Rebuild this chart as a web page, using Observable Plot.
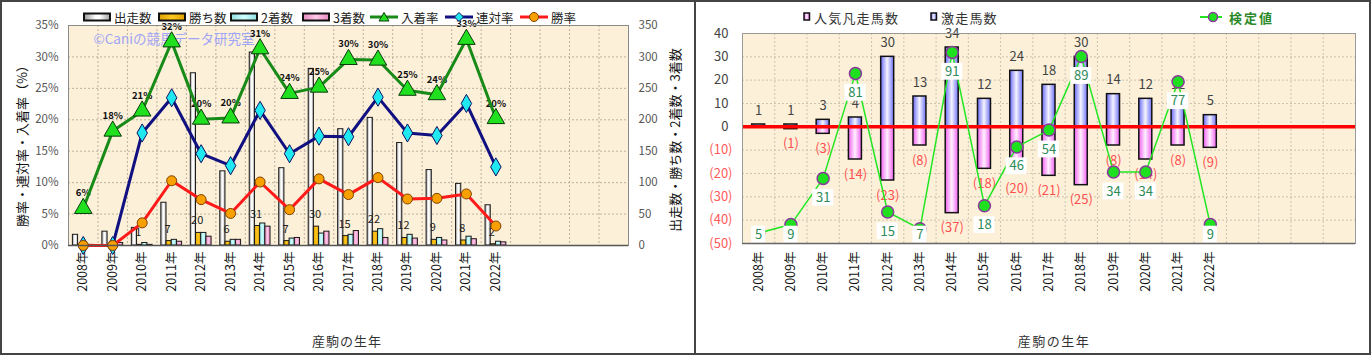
<!DOCTYPE html>
<html><head><meta charset="utf-8">
<script src="https://cdn.jsdelivr.net/npm/d3@7"></script>
<script src="https://cdn.jsdelivr.net/npm/@observablehq/plot@0.6"></script>
<style>
body{margin:0;background:#fff;}
#wrap{position:relative;width:1371px;height:355px;overflow:hidden;font-family:"Noto Sans CJK JP","Noto Sans",sans-serif;}
.abs{position:absolute;white-space:nowrap;line-height:1;}
.leg{position:absolute;display:flex;align-items:center;font-size:12.5px;color:#222;white-space:nowrap;height:16px;}
.leg svg{margin-right:3px;}
</style></head><body><div id="wrap"></div>
<script>
// ---------- data ----------
const years = ["2008年","2009年","2010年","2011年","2012年","2013年","2014年","2015年","2016年","2017年","2018年","2019年","2020年","2021年","2022年"];
const blankSlots = ["b1","b2","b3","b4"];
// left chart (counts)
const starts  = [17,22,28,68,274,118,307,123,281,185,203,163,120,98,64];   // 出走数
const wins    = [0,0,1,7,20,6,31,7,30,15,22,12,9,8,2];                     // 勝ち数
const seconds = [0,0,4,9,20,9,35,11,19,17,26,17,12,14,6];                  // 2着数
const thirds  = [1,4,1,6,14,9,30,12,22,23,12,11,8,10,5];                   // 3着数
// left chart (rates, %)
const winRate    = [0,0,3.6,10.3,7.3,5.1,10.1,5.7,10.6,8.1,10.8,7.4,7.5,8.2,3.1];        // 勝率
const rentaiRate = [0,0,17.9,23.5,14.6,12.7,21.5,14.6,17.4,17.3,23.6,17.9,17.5,22.6,12.5]; // 連対率
const placeRate  = [5.9,18.2,21.4,32.4,20.1,20.3,31.3,24.2,25.2,29.6,29.5,24.7,24.0,32.8,20.2]; // 入着率
// right chart
const surgeCount = [1,1,3,4,30,13,34,12,24,18,30,14,12,12,5];   // 激走馬数
const flopCount  = [0,1,3,14,23,8,37,18,20,21,25,8,14,8,9];     // 人気凡走馬数
const testValue  = [5,9,31,81,15,7,91,18,46,54,89,34,34,77,9];  // 検定値
const pctTicks = [0,5,10,15,20,25,30,35];
const posTicks = [0,10,20,30,40];
const negTicks = [-50,-40,-30,-20,-10];

const FONT = '"Noto Sans CJK JP","Noto Sans",sans-serif';
const wrap = document.getElementById("wrap");
const ns = "http://www.w3.org/2000/svg";

function addDefs(svg, grads) {
  const defs = document.createElementNS(ns, "defs");
  for (const [id, stops] of grads) {
    const g = document.createElementNS(ns, "linearGradient");
    g.setAttribute("id", id);
    g.setAttribute("x1","0"); g.setAttribute("x2","1"); g.setAttribute("y1","0"); g.setAttribute("y2","0");
    for (const [off, col] of stops) {
      const s = document.createElementNS(ns, "stop");
      s.setAttribute("offset", off); s.setAttribute("stop-color", col);
      g.appendChild(s);
    }
    defs.appendChild(g);
  }
  svg.insertBefore(defs, svg.firstChild);
}
const GRADS = [
  ["gWhite", [["0","#9a9a9a"],["0.45","#ffffff"],["0.6","#ffffff"],["1","#a0a0a0"]]],
  ["gGold",  [["0","#e0a000"],["0.5","#ffc820"],["1","#e0a000"]]],
  ["gCyan",  [["0","#90e0e0"],["0.5","#d0ffff"],["1","#90e0e0"]]],
  ["gPink",  [["0","#e888c0"],["0.5","#ffc8e8"],["1","#e888c0"]]],
  ["gBlue",  [["0","#6868f8"],["0.5","#f4f4ff"],["1","#7070f8"]]],
  ["gMag",   [["0","#f060f0"],["0.5","#fff0ff"],["1","#f060f0"]]]
];

// ---------- left chart ----------
const slotsL = [...years, ...blankSlots];
const rowsL = years.map((year, i) => ({year, starts: starts[i], wins: wins[i], seconds: seconds[i], thirds: thirds[i],
  winRate: winRate[i], rentaiRate: rentaiRate[i], placeRate: placeRate[i]}));
const WL = 695, mL = {top: 25, right: 67, bottom: 110, left: 68};
const bwL = (WL - mL.left - mL.right) / slotsL.length;
const barW = 5.2;
const barSpec = [["starts","url(#gWhite)",4.4],["wins","url(#gGold)",9.6],["seconds","url(#gCyan)",14.8],["thirds","url(#gPink)",20.0]];
const gridStyle = {stroke: "#a89c88", strokeOpacity: 0.75, strokeDasharray: "2,2"};
const yearFmt = d => d.startsWith("b") ? "" : d;

const left = Plot.plot({
  width: WL, height: 355,
  marginTop: mL.top, marginRight: mL.right, marginBottom: mL.bottom, marginLeft: mL.left,
  x: {domain: slotsL, padding: 0, round: false, axis: null, label: null},
  y: {domain: [0, 35], axis: null, label: null},
  style: {fontFamily: FONT, background: "transparent", overflow: "visible"},
  marks: [
    Plot.frame({fill: "#fcf0d9", stroke: null}),
    Plot.gridY(pctTicks.slice(1), gridStyle),
    Plot.ruleX(slotsL.slice(1), {x: d => d, dx: -bwL / 2, ...gridStyle}),
    Plot.text(["©Caniの競馬データ研究室"], {frameAnchor: "top-left", dx: 25, dy: 9, textAnchor: "start", fill: "#a0a4f6", fontSize: 13.5}),
    ...barSpec.map(([k, fill, off]) => Plot.barY(rowsL, {x: "year", y: d => d[k] / 10, fill, stroke: "#1a1a1a", strokeWidth: 1,
      insetLeft: off, insetRight: bwL - off - barW})),
    Plot.text(rowsL.filter(d => d.wins > 0), {x: "year", y: d => d.wins / 10, text: d => String(d.wins), dx: -4, dy: -12, fontSize: 11, fill: "#222"}),
    Plot.text(rowsL, {x: "year", y: "placeRate", text: d => Math.round(d.placeRate) + "%", dy: -15, fontSize: 9.5, fontWeight: "bold", fill: "#111"}),
    Plot.line(rowsL, {x: "year", y: "placeRate", stroke: "#178a17", strokeWidth: 3}),
    Plot.line(rowsL, {x: "year", y: "rentaiRate", stroke: "#101080", strokeWidth: 3}),
    Plot.line(rowsL, {x: "year", y: "winRate", stroke: "#ff1a1a", strokeWidth: 3}),
    Plot.dot(rowsL, {x: "year", y: "placeRate", symbol: "triangle", r: 6.5, fill: "#20e020", stroke: "#0a3a0a", strokeWidth: 1}),
    Plot.dot(rowsL, {x: "year", y: "rentaiRate", symbol: "diamond", r: 5.5, fill: "#20e8f0", stroke: "#101060", strokeWidth: 1}),
    Plot.dot(rowsL, {x: "year", y: "winRate", r: 5, fill: "#f8a000", stroke: "#804000", strokeWidth: 1}),
    Plot.frame({stroke: "#8a8a8a"}),
    Plot.ruleY([0], {stroke: "#555", strokeWidth: 1.5}),
    Plot.axisY(pctTicks, {anchor: "left", label: null, tickFormat: d => d + "%", tickSize: 0, tickPadding: 10, fontSize: 11.5, color: "#555"}),
    Plot.axisY(pctTicks, {anchor: "right", label: null, tickFormat: d => String(d * 10), tickSize: 0, tickPadding: 10, fontSize: 11.5, color: "#555"}),
    Plot.axisX({label: null, tickRotate: -90, tickSize: 0, tickPadding: 6, fontSize: 12.5, color: "#111", tickFormat: yearFmt})
  ]
});
addDefs(left, GRADS);
left.style.position = "absolute"; left.style.left = "0px"; left.style.top = "0px";
wrap.appendChild(left);

// ---------- right chart ----------
const rowsR = years.map((year, i) => ({year, surge: surgeCount[i], flop: flopCount[i], test: testValue[i]}));
const WR = 674, mR = {top: 33, right: 16, bottom: 112, left: 45};
const bwR = (WR - mR.left - mR.right) / slotsL.length;
const insR = (bwR - 13) / 2;
const testScale = d3.scaleLinear([0, 100], [-50, 40]);   // hidden secondary axis for 検定値
const labelY = d => Math.max(testScale(d.test) - 8.3, -46.2);
const gridR = {stroke: "#b8b0a0", strokeOpacity: 0.7, strokeDasharray: "2,2"};
const one = rowsR.filter(d => d.test < 10), two = rowsR.filter(d => d.test >= 10);

const right = Plot.plot({
  width: WR, height: 355,
  marginTop: mR.top, marginRight: mR.right, marginBottom: mR.bottom, marginLeft: mR.left,
  x: {domain: slotsL, padding: 0, round: false, axis: null, label: null},
  y: {domain: [-50, 40], axis: null, label: null},
  style: {fontFamily: FONT, background: "transparent", overflow: "visible"},
  marks: [
    Plot.frame({fill: "#fcf0d9", stroke: null}),
    Plot.gridY([...negTicks.slice(1), ...posTicks.slice(1, 4)], gridR),
    Plot.ruleX(slotsL.slice(1), {x: d => d, dx: -bwR / 2, ...gridR}),
    Plot.barY(rowsR, {x: "year", y1: 0, y2: "surge", fill: "url(#gBlue)", stroke: "#111", strokeWidth: 1.5, insetLeft: insR, insetRight: insR}),
    Plot.barY(rowsR.filter(d => d.flop > 0), {x: "year", y1: 0, y2: d => -d.flop, fill: "url(#gMag)", stroke: "#111", strokeWidth: 1.5, insetLeft: insR, insetRight: insR}),
    Plot.text(rowsR, {x: "year", y: "surge", text: d => String(d.surge), dy: -14, fontSize: 13, fill: "#444"}),
    Plot.text(rowsR.filter(d => d.flop > 0), {x: "year", y: d => -d.flop, text: d => `(${d.flop})`, dy: 15, fontSize: 13, fill: "#ff5050"}),
    Plot.ruleY([0], {stroke: "#ff0000", strokeWidth: 3.5}),
    Plot.line(rowsR, {x: "year", y: d => testScale(d.test), stroke: "#22e622", strokeWidth: 1.5}),
    Plot.dot(rowsR, {x: "year", y: d => testScale(d.test), r: 6, fill: "#1ee01e", stroke: "#8a3a9a", strokeWidth: 1.5}),
    Plot.barY(one, {x: "year", y1: d => labelY(d) - 3.6, y2: d => labelY(d) + 3.6, fill: "white", insetLeft: (bwR - 14) / 2, insetRight: (bwR - 14) / 2}),
    Plot.barY(two, {x: "year", y1: d => labelY(d) - 3.6, y2: d => labelY(d) + 3.6, fill: "white", insetLeft: (bwR - 21) / 2, insetRight: (bwR - 21) / 2}),
    Plot.text(rowsR, {x: "year", y: labelY, text: d => String(d.test), fontSize: 13, fill: "#2e8b57"}),
    Plot.frame({stroke: "#999"}),
    Plot.ruleY([-50], {stroke: "#666", strokeWidth: 1.5}),
    Plot.axisY(posTicks, {anchor: "left", label: null, tickSize: 0, tickPadding: 14, fontSize: 13, color: "#444"}),
    Plot.axisY(negTicks, {anchor: "left", label: null, tickFormat: d => `(${-d})`, tickSize: 0, tickPadding: 10, fontSize: 13, color: "#ff5a5a"}),
    Plot.axisX({label: null, tickRotate: -90, tickSize: 0, tickPadding: 8, fontSize: 12.5, color: "#111", tickFormat: yearFmt})
  ]
});
right.style.position = "absolute"; right.style.left = "697px"; right.style.top = "0px";
wrap.appendChild(right);

// ---------- overlays: legends, titles, borders ----------
function div(html, css, cls = "abs") {
  const d = document.createElement("div");
  d.className = cls; d.innerHTML = html; d.style.cssText += css; wrap.appendChild(d); return d;
}
const box = fill => `<svg width="28" height="10"><rect x="1" y="1.5" width="26" height="7" fill="${fill}" stroke="#111" stroke-width="2"/></svg>`;
const lineSw = (stroke, marker) => `<svg width="28" height="12"><line x1="0" y1="6" x2="28" y2="6" stroke="${stroke}" stroke-width="3"/>${marker}</svg>`;
const legL = [
  [83, box("url(#gWhite)"), "出走数"],
  [158, box("url(#gGold)"), "勝ち数"],
  [230, box("url(#gCyan)"), "2着数"],
  [302, box("url(#gPink)"), "3着数"],
  [370, lineSw("#178a17", `<path d="M14,1.5 L19,10 L9,10 Z" fill="#20e020" stroke="#0a3a0a"/>`), "入着率"],
  [445, lineSw("#101080", `<path d="M14,1.5 L18.5,6 L14,10.5 L9.5,6 Z" fill="#20e8f0" stroke="#101060"/>`), "連対率"],
  [520, lineSw("#ff1a1a", `<circle cx="14" cy="6" r="4.5" fill="#f8a000" stroke="#804000"/>`), "勝率"]
];
for (const [x, sw, t] of legL) div(sw + `<span>${t}</span>`, `left:${x}px;top:9px;`, "leg");

const sq = fill => `<svg width="8" height="10"><rect x="1" y="1" width="5.5" height="7" fill="${fill}" stroke="#111" stroke-width="1.5"/></svg>`;
div(sq("url(#gMag)") + `<span style="letter-spacing:1.2px;font-size:13px;color:#333">人気凡走馬数</span>`, "left:803px;top:9px;", "leg");
div(sq("url(#gBlue)") + `<span style="letter-spacing:1.2px;font-size:13px;color:#333">激走馬数</span>`, "left:930px;top:9px;", "leg");
div(`<svg width="26" height="12"><line x1="0" y1="6" x2="22" y2="6" stroke="#22e622" stroke-width="2"/><circle cx="13" cy="6" r="4.5" fill="#1ee01e" stroke="#8a3a9a" stroke-width="1.5"/></svg><span style="letter-spacing:2px;font-size:13px;color:#2a8a2a;font-weight:bold">検定値</span>`, "left:1200px;top:9px;", "leg");

div("勝率・連対率・入着率（%）", "left:21px;top:143px;transform:translate(-50%,-50%) rotate(-90deg);font-size:13px;color:#111;");
div("出走数・勝ち数・2着数・3着数", "left:674px;top:140px;transform:translate(-50%,-50%) rotate(-90deg);font-size:13px;color:#111;");
div("産駒の生年", "left:347px;top:340px;transform:translate(-50%,-50%);font-size:13px;color:#333;letter-spacing:1px;");
div("産駒の生年", "left:1054px;top:340px;transform:translate(-50%,-50%);font-size:13px;color:#333;letter-spacing:1.5px;");

div("", "left:0;top:0;width:1371px;height:355px;box-sizing:border-box;border:2px solid #444;pointer-events:none;");
div("", "left:694px;top:0;width:2px;height:355px;background:#444;");
</script></body></html>
